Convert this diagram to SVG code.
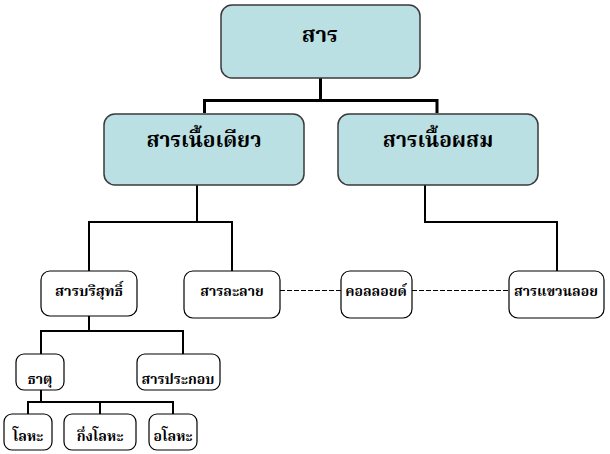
<svg xmlns="http://www.w3.org/2000/svg" width="610" height="454" viewBox="0 0 610 454">
<style>
.big{fill:#bae0e3;stroke:#3a3a3a;stroke-width:1.5}
.sm{fill:#ffffff;stroke:#000;stroke-width:1.2}
.t1{font-family:"Noto Serif Thai","Noto Sans Thai","Liberation Serif","DejaVu Sans",serif;font-weight:bold;fill:#000;text-anchor:middle}
.c1{fill:none;stroke:#000;stroke-width:3}
.c2{fill:none;stroke:#000;stroke-width:2}
.d{fill:none;stroke:#000;stroke-width:1;stroke-dasharray:5 2}
</style>
<rect width="610" height="454" fill="#fff"/>
<g id="connectors">
<path class="c1" d="M320.5 78V100.5H204.5V113M320.5 100.5H437V113"/>
<path class="c2" d="M197 185V222H89V271M197 222H232V271"/>
<path class="c2" d="M425 185V222H557V271"/>
<path class="c2" d="M89 316V331H41V354M89 331H183V354"/>
<path class="c2" d="M41 390V402H28V414M41 402H173V414M100 402V414"/>
<path class="d" d="M280 290.5H341M412 290.5H509"/>
</g>
<g id="n-sar"><rect class="big" x="221" y="5" width="199" height="73" rx="11"/><text class="t1" x="320" y="42" font-size="22">สาร</text></g>
<g id="n-pure-sub"><rect class="big" x="104" y="114" width="200" height="71" rx="11"/><text class="t1" x="204" y="147" font-size="21">สารเนื้อเดียว</text></g>
<g id="n-mix"><rect class="big" x="338" y="114" width="200" height="71" rx="11"/><text class="t1" x="438" y="147" font-size="21">สารเนื้อผสม</text></g>
<g id="n-pure"><rect class="sm" x="41" y="271" width="96" height="45" rx="9"/><text class="t1" x="89" y="296" font-size="14.5">สารบริสุทธิ์</text></g>
<g id="n-solution"><rect class="sm" x="184" y="271" width="96" height="47" rx="9"/><text class="t1" x="232" y="296" font-size="14">สารละลาย</text></g>
<g id="n-colloid"><rect class="sm" x="341" y="271" width="71" height="47" rx="9"/><text class="t1" x="376" y="296" font-size="14">คอลลอยด์</text></g>
<g id="n-suspension"><rect class="sm" x="509" y="271" width="95" height="47" rx="9"/><text class="t1" x="556" y="296" font-size="14">สารแขวนลอย</text></g>
<g id="n-element"><rect class="sm" x="16" y="354" width="48" height="36" rx="8"/><text class="t1" x="40" y="384" font-size="14">ธาตุ</text></g>
<g id="n-compound"><rect class="sm" x="137" y="354" width="83" height="36" rx="8"/><text class="t1" x="178" y="384" font-size="14">สารประกอบ</text></g>
<g id="n-metal"><rect class="sm" x="4" y="414" width="48" height="36" rx="8"/><text class="t1" x="28" y="441" font-size="14">โลหะ</text></g>
<g id="n-metalloid"><rect class="sm" x="64" y="414" width="72" height="36" rx="8"/><text class="t1" x="100" y="441" font-size="14">กึ่งโลหะ</text></g>
<g id="n-nonmetal"><rect class="sm" x="149" y="414" width="48" height="36" rx="8"/><text class="t1" x="173" y="441" font-size="14">อโลหะ</text></g>
</svg>
